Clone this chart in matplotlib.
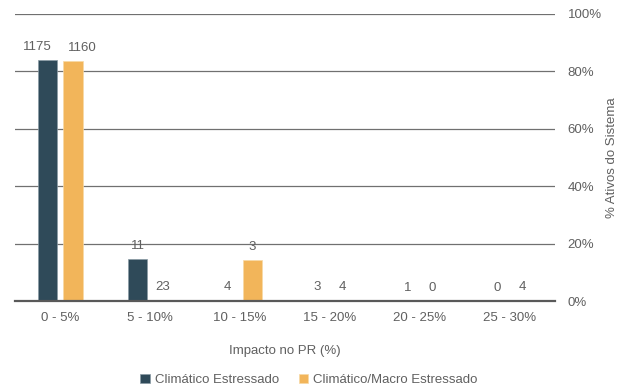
import matplotlib.pyplot as plt
import numpy as np

plt.rcParams['font.family'] = ['Liberation Sans', 'DejaVu Sans']

# Data
faixas = ["0 - 5%", "5 - 10%", "10 - 15%", "15 - 20%", "20 - 25%", "25 - 30%"]
pct_climatico = [84.0, 14.6, 0.2, 0.2, 0.1, 0.0]
pct_macro = [83.6, 0.2, 14.3, 0.2, 0.0, 0.2]
qtd_climatico = [1175, 11, 4, 3, 1, 0]
qtd_macro = [1160, 23, 3, 4, 0, 4]

cor_escura = "#2F4A59"
cor_amarela = "#F2B55A"
cor_texto = "#606060"
fs = 9.5

fig = plt.figure(figsize=(6.18, 3.88), dpi=100)
ax = fig.add_axes([0.0243, 0.2242, 0.8737, 0.7398])

x = np.arange(len(faixas))
w = 0.222
off = 0.139

b1 = ax.bar(x - off, pct_climatico, w, color=cor_escura, edgecolor="#8a9ba5", linewidth=0.5, zorder=3,
            label="Climático Estressado")
b2 = ax.bar(x + off, pct_macro, w, color=cor_amarela, edgecolor="#f7d9a6", linewidth=0.5, zorder=3,
            label="Climático/Macro Estressado")

# contagens acima das barras (numeros longos afastados para nao sobrepor)
for bars, qtd, lado in [(b1, qtd_climatico, -1), (b2, qtd_macro, 1)]:
    for b, q in zip(bars, qtd):
        dx = lado * max(len(str(q)) - 2, 0) * 3.5
        ax.annotate(str(q), (b.get_x() + b.get_width() / 2, b.get_height()),
                    xytext=(dx, 5), textcoords="offset points", ha="center", va="bottom",
                    fontsize=fs, color=cor_texto)

ax.set_xlim(-0.5, 5.5)
ax.set_ylim(0, 100)
ax.set_yticks([0, 20, 40, 60, 80, 100])
ax.set_yticklabels(["0%", "20%", "40%", "60%", "80%", "100%"])
ax.yaxis.tick_right()
ax.yaxis.set_label_position("right")
ax.set_xticks(x)
ax.set_xticklabels(faixas)
ax.tick_params(axis="both", length=0, labelsize=fs, colors=cor_texto)
ax.tick_params(axis="y", pad=9)
ax.tick_params(axis="x", pad=8)

ax.grid(axis="y", color="#707070", linewidth=0.9, zorder=0)
for s in ["top", "right", "left"]:
    ax.spines[s].set_visible(False)
ax.spines["bottom"].set_color("#595959")
ax.spines["bottom"].set_linewidth(1.6)
ax.spines["bottom"].set_zorder(4)

ax.set_xlabel("Impacto no PR (%)", fontsize=fs, color=cor_texto, labelpad=15)
ax.set_ylabel("% Ativos do Sistema", fontsize=fs, color=cor_texto, labelpad=3)

fig.legend(handles=[b1, b2], loc="center", bbox_to_anchor=(0.5, 0.02), ncol=2, frameon=False,
           fontsize=fs, labelcolor=cor_texto, handlelength=0.7, handleheight=0.7,
           handletextpad=0.4, columnspacing=1.5)

fig.savefig("out.png", dpi=100)
